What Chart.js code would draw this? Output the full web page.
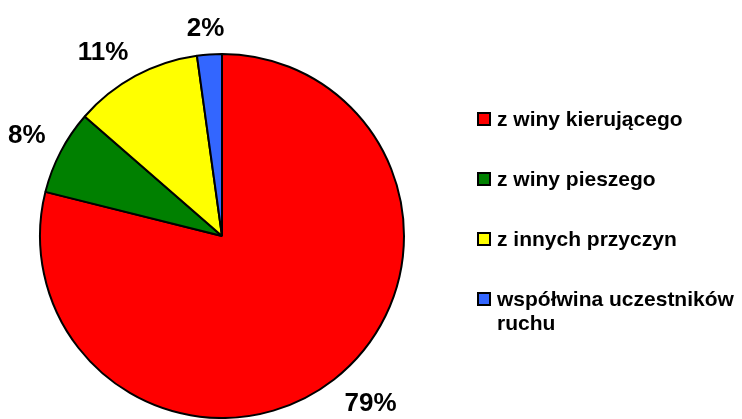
<!DOCTYPE html>
<html>
<head>
<meta charset="utf-8">
<script src="https://cdn.jsdelivr.net/npm/chart.js@4"></script>
<style>
  html, body { margin: 0; padding: 0; background: #fff; }
  #wrap { width: 742px; height: 419px; }
</style>
</head>
<body>
<div id="wrap"><canvas id="pie" width="742" height="419"></canvas></div>
<script>
const categories = ['z winy kierującego', 'z winy pieszego', 'z innych przyczyn', 'współwina uczestników ruchu'];
const shares = [78.9, 7.5, 11.4, 2.2];
const shareLabels = ['79%', '8%', '11%', '2%'];
const sliceColors = ['#FF0000', '#008000', '#FFFF00', '#3366FF'];

const FONT = '"Liberation Sans", Arial, sans-serif';

const clamp1 = v => Math.max(-1, Math.min(1, v));

// percentage labels outside each slice, box corner at the anchor point
const outsideLabels = {
  id: 'outsideLabels',
  afterDatasetsDraw(chart) {
    const ctx = chart.ctx;
    const arcs = chart.getDatasetMeta(0).data;
    ctx.save();
    ctx.font = 'bold 26px ' + FONT;
    ctx.fillStyle = '#000';
    ctx.textAlign = 'center';
    ctx.textBaseline = 'middle';
    arcs.forEach((arc, i) => {
      const p = arc.getProps(['x', 'y', 'startAngle', 'endAngle', 'outerRadius'], true);
      const mid = (p.startAngle + p.endAngle) / 2;
      const dx = Math.cos(mid), dy = Math.sin(mid);
      const w = ctx.measureText(shareLabels[i]).width;
      const h = 19;
      const r = p.outerRadius + 17;
      const cx = p.x + dx * r + clamp1(dx * 2) * w / 2;
      const cy = p.y + dy * r + clamp1(dy * 2) * h / 2;
      ctx.fillText(shareLabels[i], cx, cy + 1);
    });
    ctx.restore();
  }
};

// legend on the right, with wrapping of long names
const sideLegend = {
  id: 'sideLegend',
  afterDraw(chart) {
    const ctx = chart.ctx;
    const boxX = 478, textX = 497, firstY = 119, rowGap = 60, lineH = 24, maxW = 240;
    ctx.save();
    ctx.font = 'bold 21px ' + FONT;
    ctx.textBaseline = 'middle';
    ctx.textAlign = 'left';
    categories.forEach((name, i) => {
      const y = firstY + i * rowGap;
      ctx.fillStyle = sliceColors[i];
      ctx.fillRect(boxX, y - 6, 12, 12);
      ctx.strokeStyle = '#000';
      ctx.lineWidth = 2;
      ctx.strokeRect(boxX, y - 6, 12, 12);
      const words = name.split(' ');
      const lines = [];
      let line = '';
      words.forEach(wd => {
        const test = line ? line + ' ' + wd : wd;
        if (line && ctx.measureText(test).width > maxW) { lines.push(line); line = wd; }
        else line = test;
      });
      lines.push(line);
      ctx.fillStyle = '#000';
      lines.forEach((ln, j) => ctx.fillText(ln, textX, y + 1 + j * lineH));
    });
    ctx.restore();
  }
};

new Chart(document.getElementById('pie'), {
  type: 'pie',
  data: {
    labels: categories,
    datasets: [{
      data: shares,
      backgroundColor: sliceColors,
      borderColor: '#000',
      borderWidth: 2
    }]
  },
  options: {
    responsive: false,
    animation: false,
    layout: { padding: { top: 53, bottom: 0, left: 39, right: 337 } },
    plugins: {
      legend: { display: false },
      tooltip: { enabled: false }
    }
  },
  plugins: [outsideLabels, sideLegend]
});
</script>
</body>
</html>
